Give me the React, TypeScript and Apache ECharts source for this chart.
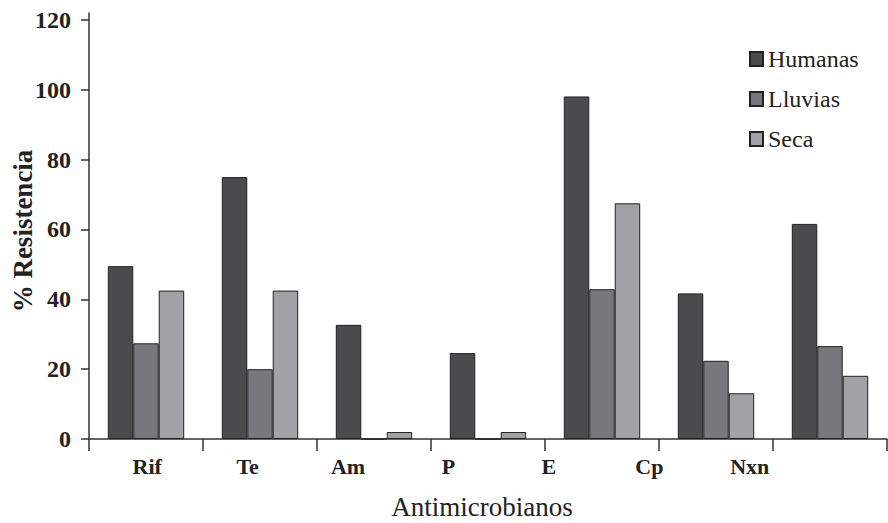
import React, { useEffect, useRef } from "react";
import * as echarts from "echarts";

const categories = ["Rif", "Te", "Am", "P", "E", "Cp", "Nxn"];
const humanas = [49.5, 75, 32.7, 24.6, 98.1, 41.7, 61.6];
const lluvias = [27.4, 20, 0, 0, 42.9, 22.4, 26.6];
const seca = [42.5, 42.5, 2, 2, 67.5, 13.1, 18.1];
const yTicks = [0, 20, 40, 60, 80, 100, 120];
const yName = "% Resistencia";
const xName = "Antimicrobianos";

const FONT = "Liberation Serif";
const AXIS = "#333333";

export default function App() {
  const ref = useRef<HTMLDivElement>(null);
  useEffect(() => {
    if (!ref.current) return;
    const chart = echarts.init(ref.current, undefined, { renderer: "svg" });
    const barStyle = (color: string) => ({
      color,
      borderColor: "#222222",
      borderWidth: 1,
    });
    chart.setOption({
      animation: false,
      backgroundColor: "#ffffff",
      textStyle: { fontFamily: FONT },
      title: {
        text: xName,
        left: 477,
        top: 488,
        textAlign: "center",
        textStyle: { fontFamily: FONT, fontSize: 27, fontWeight: "normal", color: "#222" },
      },
      graphic: [
        {
          type: "text",
          x: 23,
          y: 231,
          rotation: Math.PI / 2,
          style: {
            text: yName,
            font: `bold 27px ${FONT}`,
            fill: "#222",
            align: "center",
            verticalAlign: "middle",
          },
        },
      ],
      legend: {
        orient: "vertical",
        left: 744,
        top: 42,
        icon: "rect",
        itemWidth: 13,
        itemHeight: 14,
        itemGap: 16,
        textStyle: { fontFamily: FONT, fontSize: 24, color: "#222", lineHeight: 24 },
        data: ["Humanas", "Lluvias", "Seca"],
      },
      grid: [
        { left: 89, right: 1, top: 13, bottom: 84, containLabel: false, outerBoundsMode: "none" },
        { left: 97, right: 88, top: 13, bottom: 84, containLabel: false, outerBoundsMode: "none" },
      ],
      xAxis: [
        {
          type: "category",
          gridIndex: 0,
          data: categories,
          axisLine: { lineStyle: { color: AXIS, width: 1.5 } },
          axisTick: { show: true, length: 12, lineStyle: { color: AXIS, width: 1.5 } },
          axisLabel: { show: false },
        },
        {
          type: "category",
          gridIndex: 1,
          data: categories,
          axisLine: { show: false },
          axisTick: { show: false },
          axisLabel: {
            margin: 16,
            fontFamily: FONT,
            fontSize: 22,
            fontWeight: "bold",
            color: "#222",
          },
        },
      ],
      yAxis: [
        {
          type: "value",
          gridIndex: 0,
          min: 0,
          max: 122,
          axisLine: { show: true, lineStyle: { color: AXIS, width: 1.5 } },
          axisTick: { show: true, length: 8, customValues: yTicks, lineStyle: { color: AXIS, width: 1.5 } },
          axisLabel: {
            customValues: yTicks,
            margin: 18,
            fontFamily: FONT,
            fontSize: 24,
            fontWeight: "bold",
            color: "#222",
          },
          splitLine: { show: false },
        },
        { type: "value", gridIndex: 1, show: false },
      ],
      series: [
        {
          name: "Humanas",
          type: "bar",
          data: humanas,
          itemStyle: barStyle("#4a4b4d"),
          barGap: "0%",
          barCategoryGap: "33%",
        },
        { name: "Lluvias", type: "bar", data: lluvias, itemStyle: barStyle("#77787c") },
        { name: "Seca", type: "bar", data: seca, itemStyle: barStyle("#a1a2a6") },
      ],
    });
    return () => chart.dispose();
  }, []);
  return (
    <div
      ref={ref}
      style={{ position: "absolute", left: 0, top: 0, width: 888, height: 523 }}
    />
  );
}
